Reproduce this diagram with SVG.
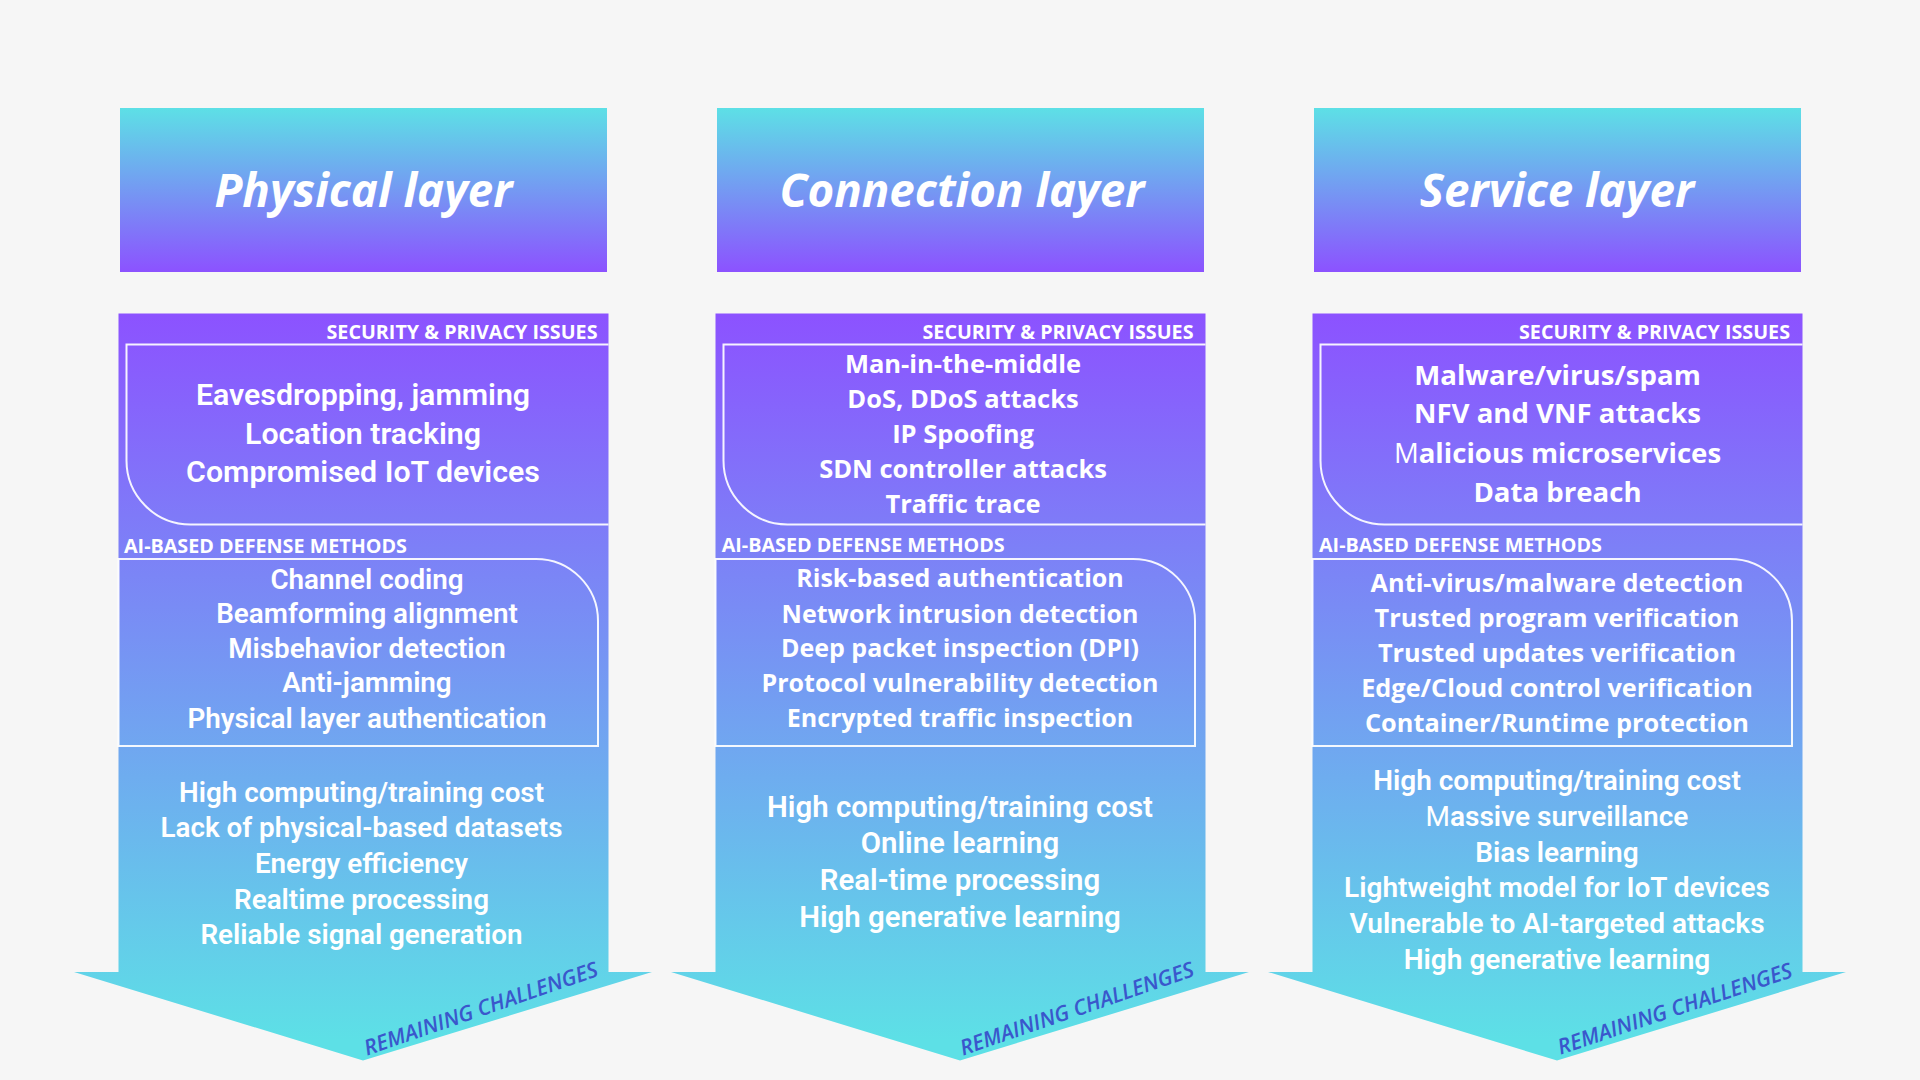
<svg xmlns="http://www.w3.org/2000/svg" width="1920" height="1080" viewBox="0 0 1920 1080">
<defs>
<linearGradient id="hdrGrad" x1="0" y1="0" x2="0" y2="1">
<stop offset="0" stop-color="#5de0e6"/>
<stop offset="1" stop-color="#8c52ff"/>
</linearGradient>
<linearGradient id="bodyGrad" gradientUnits="userSpaceOnUse" x1="0" y1="313" x2="0" y2="1040">
<stop offset="0" stop-color="#8c52ff"/>
<stop offset="1" stop-color="#5de0e6"/>
</linearGradient>
<style>
.hdr{fill:url(#hdrGrad)}
.body{fill:url(#bodyGrad)}
.frame{fill:none;stroke:#ffffff;stroke-width:2;stroke-opacity:0.92}
.title{font-family:"Open Sans","Noto Sans",sans-serif;font-weight:700;font-style:italic;font-size:45.7px;fill:#ffffff;text-anchor:middle}
.lbl{font-family:"Open Sans","Noto Sans",sans-serif;font-weight:700;font-size:20px;fill:#ffffff}
.cond{font-family:Roboto,"Noto Sans",sans-serif;font-weight:600;fill:#ffffff;text-anchor:middle}
.os{font-family:"Open Sans","Noto Sans",sans-serif;font-weight:700;fill:#ffffff;text-anchor:middle}
.rc{font-family:"Open Sans","Noto Sans",sans-serif;font-weight:600;font-style:italic;font-size:21.5px;fill:#3a57cc;text-anchor:middle}
.thin{font-weight:400}
</style>
</defs>
<rect x="0" y="0" width="1920" height="1080" fill="#f6f6f6"/>

<!-- Column 1: Physical layer -->
<g id="col-physical">
<g id="physical-header">
<rect class="hdr" x="120" y="108" width="487" height="164"/>
<text class="title" x="363.5" y="207">Physical layer</text>
</g>
<g id="physical-body">
<path class="body" d="M118.5,313.5 H608.5 V972 H652 L363,1060.5 L74,972 H118.5 Z"/>
<text class="lbl" x="597.5" y="339" text-anchor="end" textLength="271" lengthAdjust="spacingAndGlyphs">SECURITY &amp; PRIVACY ISSUES</text>
<path class="frame" d="M608.5,344.5 H126.5 V460 A64,64 0 0 0 190.5,524.5 H608.5"/>
<g class="cond" font-size="30.3">
<text x="363" y="405">Eavesdropping, jamming</text>
<text x="363" y="444">Location tracking</text>
<text x="363" y="482">Compromised IoT devices</text>
</g>
<text class="lbl" x="124" y="553" textLength="283" lengthAdjust="spacingAndGlyphs">AI-BASED DEFENSE METHODS</text>
<path class="frame" d="M118.5,559 H536 A62,62 0 0 1 598,621 V746 H118.5 Z"/>
<g class="cond" font-size="27.8">
<text x="367" y="589">Channel coding</text>
<text x="367" y="623">Beamforming alignment</text>
<text x="367" y="658">Misbehavior detection</text>
<text x="367" y="692">Anti-jamming</text>
<text x="367" y="727.5">Physical layer authentication</text>
</g>
<g class="cond" font-size="27.8">
<text x="361.5" y="801.5">High computing/training cost</text>
<text x="361.5" y="837.4">Lack of physical-based datasets</text>
<text x="361.5" y="873">Energy efficiency</text>
<text x="361.5" y="908.8">Realtime processing</text>
<text x="361.5" y="944">Reliable signal generation</text>
</g>
<text class="rc" transform="translate(481,1009) rotate(-19)" x="0" y="7">REMAINING CHALLENGES</text>
</g>
</g>

<!-- Column 2: Connection layer -->
<g id="col-connection" transform="translate(597,0)">
<g id="connection-header">
<rect class="hdr" x="120" y="108" width="487" height="164"/>
<text class="title" x="365" y="207">Connection layer</text>
</g>
<g id="connection-body">
<path class="body" d="M118.5,313.5 H608.5 V972 H652 L363,1060.5 L74,972 H118.5 Z"/>
<text class="lbl" x="596.5" y="339" text-anchor="end" textLength="271" lengthAdjust="spacingAndGlyphs">SECURITY &amp; PRIVACY ISSUES</text>
<path class="frame" d="M608.5,344.5 H126.5 V460 A64,64 0 0 0 190.5,524.5 H608.5"/>
<g class="os" font-size="25.5">
<text x="366" y="373.3">Man-in-the-middle</text>
<text x="366" y="408.3">DoS, DDoS attacks</text>
<text x="366" y="443.3">IP Spoofing</text>
<text x="366" y="478.3">SDN controller attacks</text>
<text x="366" y="512.7">Traffic trace</text>
</g>
<text class="lbl" x="124.7" y="552" textLength="283" lengthAdjust="spacingAndGlyphs">AI-BASED DEFENSE METHODS</text>
<path class="frame" d="M118.5,559 H536 A62,62 0 0 1 598,621 V746 H118.5 Z"/>
<g class="os" font-size="25">
<text x="363" y="587.3">Risk-based authentication</text>
<text x="363" y="622.7">Network intrusion detection</text>
<text x="363" y="657.3">Deep packet inspection (DPI)</text>
<text x="363" y="692.3">Protocol vulnerability detection</text>
<text x="363" y="727.3">Encrypted traffic inspection</text>
</g>
<g class="cond" font-size="29.4">
<text x="363" y="816.7">High computing/training cost</text>
<text x="363" y="853.3">Online learning</text>
<text x="363" y="890">Real-time processing</text>
<text x="363" y="926.7">High generative learning</text>
</g>
<text class="rc" transform="translate(480,1009) rotate(-19)" x="0" y="7">REMAINING CHALLENGES</text>
</g>
</g>

<!-- Column 3: Service layer -->
<g id="col-service" transform="translate(1194,0)">
<g id="service-header">
<rect class="hdr" x="120" y="108" width="487" height="164"/>
<text class="title" x="363" y="207">Service layer</text>
</g>
<g id="service-body">
<path class="body" d="M118.5,313.5 H608.5 V972 H652 L363,1060.5 L74,972 H118.5 Z"/>
<text class="lbl" x="596" y="339" text-anchor="end" textLength="271" lengthAdjust="spacingAndGlyphs">SECURITY &amp; PRIVACY ISSUES</text>
<path class="frame" d="M608.5,344.5 H126.5 V460 A64,64 0 0 0 190.5,524.5 H608.5"/>
<g class="os" font-size="27.6">
<text x="363.5" y="385">Malware/virus/spam</text>
<text x="363.5" y="423.3">NFV and VNF attacks</text>
<text x="363.5" y="462.7"><tspan class="thin">M</tspan>alicious microservices</text>
<text x="363.5" y="501.7">Data breach</text>
</g>
<text class="lbl" x="125" y="552" textLength="283" lengthAdjust="spacingAndGlyphs">AI-BASED DEFENSE METHODS</text>
<path class="frame" d="M118.5,559 H536 A62,62 0 0 1 598,621 V746 H118.5 Z"/>
<g class="os" font-size="25.3">
<text x="363" y="591.7">Anti-virus/malware detection</text>
<text x="363" y="626.7">Trusted program verification</text>
<text x="363" y="661.7">Trusted updates verification</text>
<text x="363" y="696.7">Edge/Cloud control verification</text>
<text x="363" y="731.7">Container/Runtime protection</text>
</g>
<g class="cond" font-size="28">
<text x="363" y="790">High computing/training cost</text>
<text x="363" y="826"><tspan class="thin">M</tspan>assive surveillance</text>
<text x="363" y="861.7">Bias learning</text>
<text x="363" y="897.3">Lightweight model for IoT devices</text>
<text x="363" y="933.3">Vulnerable to AI-targeted attacks</text>
<text x="363" y="969.3">High generative learning</text>
</g>
<text class="rc" transform="translate(481,1009) rotate(-18.5)" x="0" y="7">REMAINING CHALLENGES</text>
</g>
</g>
</svg>
